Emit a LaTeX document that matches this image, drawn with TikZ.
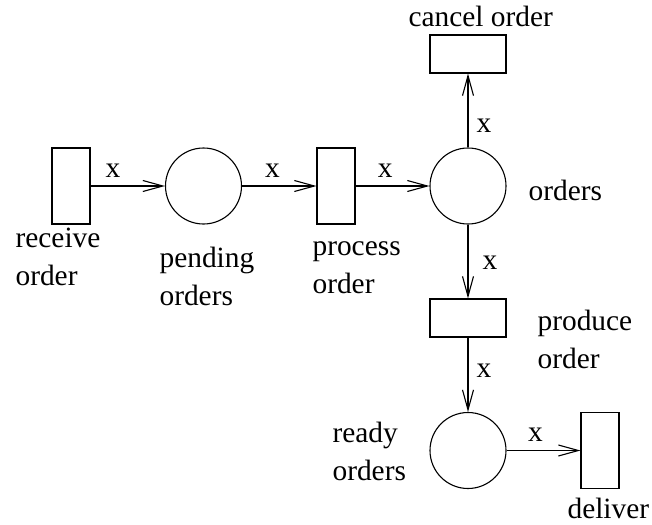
\documentclass[tikz,border=0pt]{standalone}
\usepackage{fontspec}
\setmainfont{Liberation Serif}
\usetikzlibrary{arrows.meta}

\begin{document}
\begin{tikzpicture}[x=0.5pt, y=-0.5pt, line width=0.55pt,
    font=\fontsize{14.7}{19}\selectfont,
    place/.style={draw, circle, minimum size=38pt, inner sep=0pt},
    trans/.style={draw, rectangle, minimum width=19pt, minimum height=38pt, inner sep=0pt},
    htrans/.style={draw, rectangle, minimum width=38pt, minimum height=19pt, inner sep=0pt},
    arc/.style={-{Straight Barb[length=10pt, width=5.5pt, line width=0.55pt]}},
    inscr/.style={inner sep=4pt},
    caption/.style={anchor=base west, align=left, inner sep=0pt}]
    \useasboundingbox (0,0) rectangle (652,524);

    % places and transitions
    \node[trans]  (receive) at (71,186) {};
    \node[place]  (pending) at (203.5,186) {};
    \node[trans]  (process) at (336,186) {};
    \node[place]  (orders)  at (468,186) {};
    \node[htrans] (cancel)  at (468,54) {};
    \node[htrans] (produce) at (468,318) {};
    \node[place]  (ready)   at (468,450.5) {};
    \node[trans]  (deliver) at (600,450.5) {};

    % arcs
    \draw[arc] (receive) -- node[pos=0.3, above, inscr] {x} (pending);
    \draw[arc] (pending) -- node[pos=0.41, above, inscr] {x} (process);
    \draw[arc] (process) -- node[pos=0.4, above, inscr] {x} (orders);
    \draw[arc] (orders) -- node[pos=0.3, right, inscr] {x} (cancel);
    \draw[arc] (orders) -- node[pos=0.52, right, inscr, xshift=3pt] {x} (produce);
    \draw[arc] (produce) -- node[pos=0.44, right, inscr] {x} (ready);
    \draw[arc] (ready) -- node[pos=0.39, above, inscr] {x} (deliver);

    % names (base is the last line)
    \node[caption] (receivetxt) at (15,285) {receive\\order};
    \node[caption] (pendingtxt) at (159,305) {pending\\orders};
    \node[caption] (processtxt) at (312,293) {process\\order};
    \node[caption] (orderstxt)  at (528,200) {orders};
    \node[caption] (canceltxt)  at (408,27) {cancel order};
    \node[caption] (producetxt) at (537,368) {produce\\order};
    \node[caption] (readytxt)   at (332,480) {ready\\orders};
    \node[caption] (delivertxt) at (567,518) {deliver};
\end{tikzpicture}
\end{document}
